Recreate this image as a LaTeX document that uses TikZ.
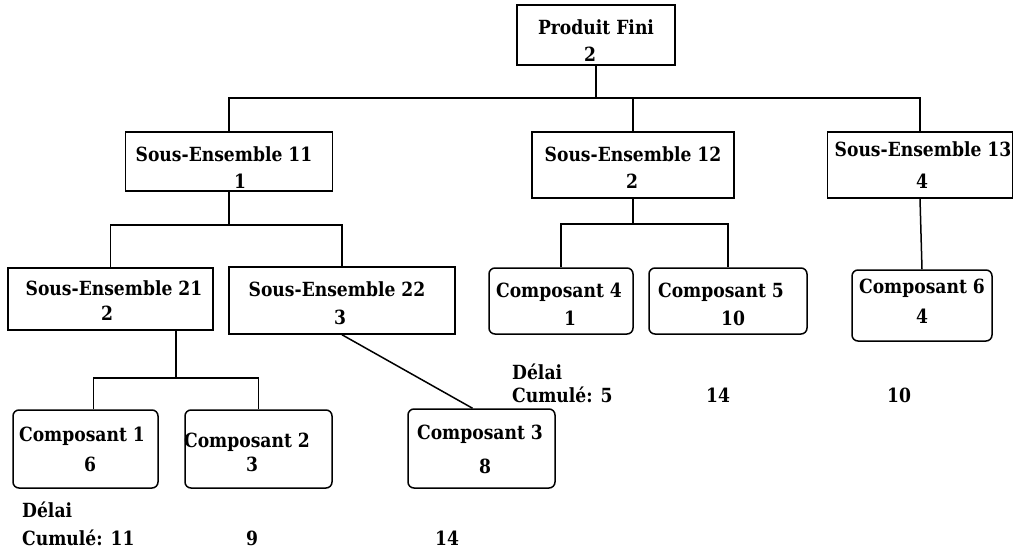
\documentclass[tikz,border=0pt]{standalone}
\usepackage{fontspec}
\setmainfont{DejaVu Serif}[FakeStretch=0.88]
\begin{document}
\begin{tikzpicture}[x=1pt,y=-1pt,
  box/.style={draw,line width=1.5pt,inner sep=0pt},
  sqbox/.style={box,rectangle},
  rbox/.style={box,rounded corners=6pt},
  txt/.style={anchor=base,inner sep=0pt,font=\fontsize{19.5}{23}\selectfont\bfseries},
  ltxt/.style={txt,anchor=base west},
  link/.style={line width=1.5pt}]
\useasboundingbox (0,0) rectangle (1014,559);
% boxes
\node[sqbox,minimum width=158pt,minimum height=60pt] (pf) at (596,35) {};
\node[sqbox,minimum width=207pt,minimum height=59pt] (se11) at (229,161.5) {};
\node[sqbox,minimum width=202pt,minimum height=66pt] (se12) at (633,165) {};
\node[sqbox,minimum width=185pt,minimum height=66pt] (se13) at (920,165) {};
\node[sqbox,minimum width=205pt,minimum height=62pt] (se21) at (110.5,299) {};
\node[sqbox,minimum width=226pt,minimum height=67pt] (se22) at (342,300.5) {};
\node[rbox,minimum width=145pt,minimum height=78pt] (c1) at (85.5,449) {};
\node[rbox,minimum width=147pt,minimum height=78pt] (c2) at (258.5,449) {};
\node[rbox,minimum width=147pt,minimum height=79pt] (c3) at (481.5,448.5) {};
\node[rbox,minimum width=144pt,minimum height=66pt] (c4) at (561,301) {};
\node[rbox,minimum width=158pt,minimum height=66pt] (c5) at (728,301) {};
\node[rbox,minimum width=140pt,minimum height=71pt] (c6) at (922,305.5) {};
% texts
\node[txt] (tpf1) at (596,35) {Produit Fini};
\node[txt] (tpf2) at (590,62) {2};
\node[txt] (tse11a) at (224,161.5) {Sous-Ensemble 11};
\node[txt] (tse11b) at (240,188) {1};
\node[txt] (tse12a) at (633,161.5) {Sous-Ensemble 12};
\node[txt] (tse12b) at (632,188) {2};
\node[txt] (tse13a) at (923,156.5) {Sous-Ensemble 13};
\node[txt] (tse13b) at (922,188) {4};
\node[txt] (tse21a) at (114,295) {Sous-Ensemble 21};
\node[txt] (tse21b) at (107,320) {2};
\node[txt] (tse22a) at (337,296.5) {Sous-Ensemble 22};
\node[txt] (tse22b) at (340,324) {3};
\node[txt] (tc1a) at (82,441) {Composant 1};
\node[txt] (tc1b) at (90,471) {6};
\node[txt] (tc2a) at (247,447) {Composant 2};
\node[txt] (tc2b) at (252,471) {3};
\node[txt] (tc3a) at (480,439) {Composant 3};
\node[txt] (tc3b) at (485,473) {8};
\node[txt] (tc4a) at (559,297) {Composant 4};
\node[txt] (tc4b) at (570,325) {1};
\node[txt] (tc5a) at (721,297) {Composant 5};
\node[txt] (tc5b) at (733,325) {10};
\node[txt] (tc6a) at (922,293) {Composant 6};
\node[txt] (tc6b) at (922,323) {4};
% cumulative lead times
\node[ltxt] (d1) at (22,517) {Délai};
\node[ltxt] (k1) at (22,545) {Cumulé: 11};
\node[txt] (k2) at (252,545) {9};
\node[txt] (k3) at (447,545) {14};
\node[ltxt] (d4) at (512,379) {Délai};
\node[ltxt] (k4) at (512,402) {Cumulé: 5};
\node[txt] (k5) at (718,402) {14};
\node[txt] (k6) at (899,402) {10};
% connectors
\coordinate (bus1) at (0,98);
\coordinate (bus2) at (0,225);
\coordinate (bus3) at (0,224);
\coordinate (bus4) at (176,378);
\draw[link] (pf.south) -- (pf.south |- bus1);
\draw[link] (se11.north) |- (pf.south |- bus1) -| (se13.north);
\draw[link] (se12.north) -- (se12.north |- bus1);
\draw[link] (se11.south) -- (se11.south |- bus2);
\draw[link] (se21.north) |- (se11.south |- bus2) -| (se22.north);
\draw[link] (se12.south) -- (se12.south |- bus3);
\draw[link] (c4.north) |- (se12.south |- bus3) -| (c5.north);
\draw[link] (se13.south) -- (c6.north);
\draw[link] (bus4) -- (bus4 |- se21.south);
\draw[link] ([xshift=8pt]c1.north) |- (bus4) -| (c2.north);
\draw[link] (se22.south) -- ([xshift=-9pt]c3.north);
\end{tikzpicture}
\end{document}
